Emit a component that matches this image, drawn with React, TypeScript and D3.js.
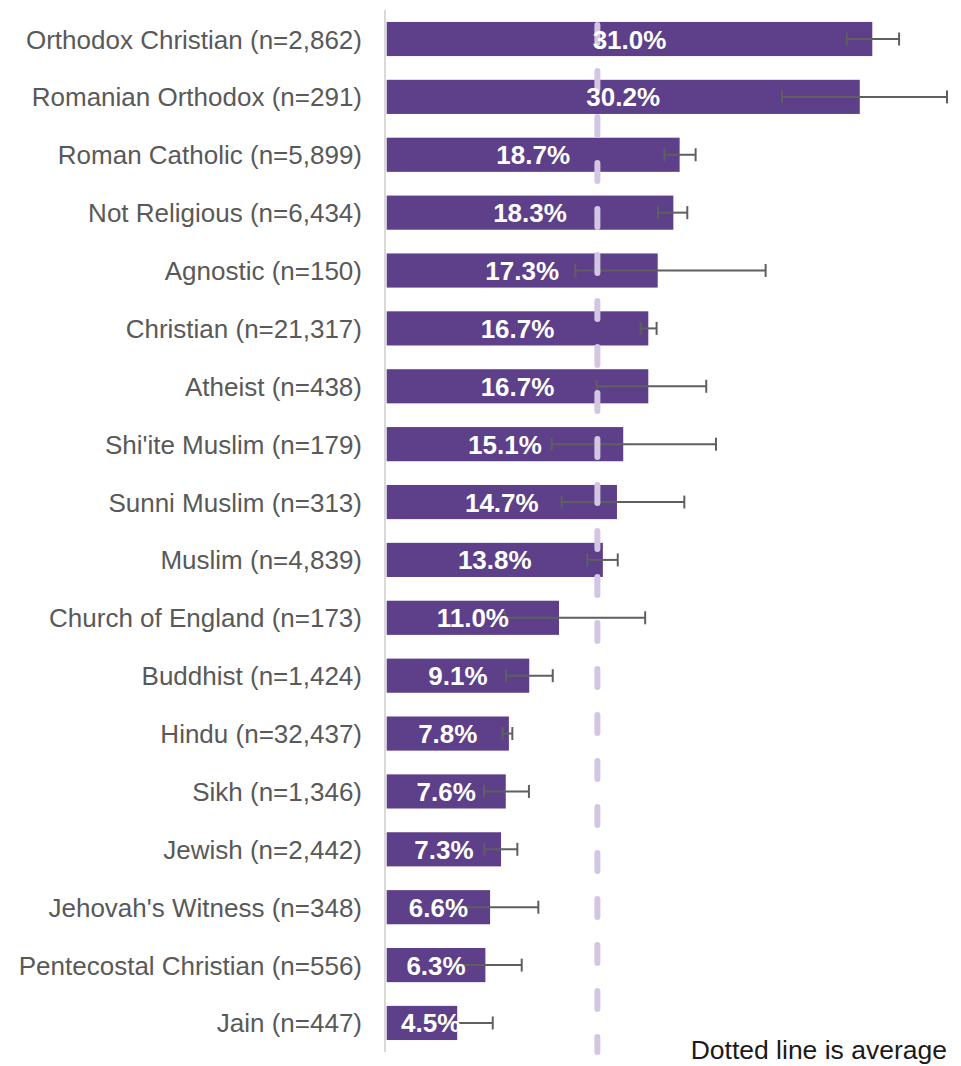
import React from "react";
import * as d3 from "d3";

const categories = [
  "Orthodox Christian (n=2,862)",
  "Romanian Orthodox (n=291)",
  "Roman Catholic (n=5,899)",
  "Not Religious (n=6,434)",
  "Agnostic (n=150)",
  "Christian (n=21,317)",
  "Atheist (n=438)",
  "Shi'ite Muslim (n=179)",
  "Sunni Muslim (n=313)",
  "Muslim (n=4,839)",
  "Church of England (n=173)",
  "Buddhist (n=1,424)",
  "Hindu (n=32,437)",
  "Sikh (n=1,346)",
  "Jewish (n=2,442)",
  "Jehovah's Witness (n=348)",
  "Pentecostal Christian (n=556)",
  "Jain (n=447)",
];
const values = [31.0, 30.2, 18.7, 18.3, 17.3, 16.7, 16.7, 15.1, 14.7, 13.8, 11.0, 9.1, 7.8, 7.6, 7.3, 6.6, 6.3, 4.5];
const lows = [29.37, 25.23, 17.72, 17.32, 12.04, 16.21, 13.4, 10.53, 11.17, 12.81, 7.55, 7.62, 7.4, 6.21, 6.23, 4.3, 4.5, 2.9];
const highs = [32.71, 35.77, 19.72, 19.19, 24.19, 17.23, 20.4, 21.02, 19.0, 14.75, 16.5, 10.6, 8.02, 9.08, 8.34, 9.68, 8.62, 6.77];
const average = 13.45;
const footnote = "Dotted line is average";

export default function App() {
  const W = 961, H = 1066;
  const x0 = 386.7;
  const x = d3.scaleLinear().domain([0, 31]).range([x0, 872.3]);
  const y = d3.scaleBand<string>().domain(categories).range([10.06, 1051.9]).paddingInner(0.41).paddingOuter(0.205);
  const bw = y.bandwidth();
  const font = "'Liberation Sans', Arial, sans-serif";
  return (
    <svg width={W} height={H} style={{ position: "absolute", left: 0, top: 0, background: "#fff" }}>
      <line x1={385} x2={385} y1={10} y2={1052} stroke="#d9d9d9" strokeWidth={2} />
      {categories.map((c, i) => {
        const yc = (y(c) as number) + bw / 2;
        return (
          <text key={"l" + i} x={362} y={yc + 9.5} textAnchor="end" fontFamily={font} fontSize={26} fill="#595959">
            {c}
          </text>
        );
      })}
      {categories.map((c, i) => (
        <rect key={"b" + i} x={x(0)} y={y(c)} width={x(values[i]) - x(0)} height={bw} fill="#5d3f8a" />
      ))}
      {categories.map((c, i) => {
        const yc = (y(c) as number) + bw / 2;
        const a = x(lows[i]), b = x(highs[i]);
        return (
          <g key={"e" + i} stroke="#5f5f5f" strokeWidth={2}>
            <line x1={a} x2={b} y1={yc} y2={yc} />
            <line x1={a} x2={a} y1={yc - 6.5} y2={yc + 6.5} />
            <line x1={b} x2={b} y1={yc - 6.5} y2={yc + 6.5} />
          </g>
        );
      })}
      <line x1={x(average)} x2={x(average)} y1={25} y2={1052} stroke="#d3c6e2" strokeWidth={6}
        strokeLinecap="round" strokeDasharray="18 28" />
      {categories.map((c, i) => {
        const yc = (y(c) as number) + bw / 2;
        const mid = (x(0) + x(values[i])) / 2;
        return (
          <text key={"v" + i} x={Math.max(mid, x0 + 44)} y={yc + 9.5} textAnchor="middle" fontFamily={font}
            fontSize={26} fontWeight="bold" fill="#ffffff">
            {values[i].toFixed(1) + "%"}
          </text>
        );
      })}
      <text x={947} y={1059} textAnchor="end" fontFamily={font} fontSize={26.5} fill="#1a1a1a">
        {footnote}
      </text>
    </svg>
  );
}
